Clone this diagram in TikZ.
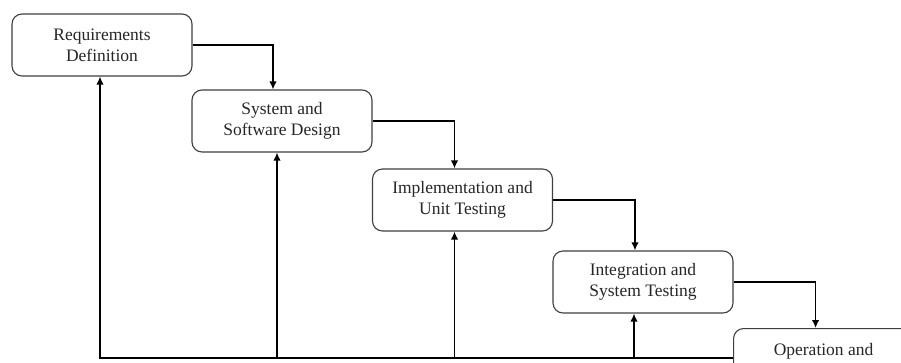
\documentclass[tikz,border=0pt]{standalone}
\usepackage{fontspec}
\setmainfont{Liberation Serif}
\usetikzlibrary{arrows.meta,calc}
\begin{document}
\begin{tikzpicture}[x=1pt,y=-1pt,
  phase/.style={draw=black!75, line width=1.1pt, rounded corners=10pt, fill=white,
    minimum width=180pt, minimum height=62pt, align=center, inner sep=0pt,
    font=\fontsize{17.5}{21}\selectfont, text=black!85},
  flow/.style={draw=black, line width=1.8pt, -{Latex[length=8pt,width=7.5pt]}}]
\useasboundingbox[fill=white] (0,0) rectangle (901,362);
\clip (0,0) rectangle (901,362);
\coordinate (base) at (0,358);
\node[phase] (req) at (102,45) {Requirements\\Definition};
\node[phase] (des) at (282,121) {System and\\Software Design};
\node[phase] (imp) at (462.5,200) {Implementation and\\Unit Testing};
\node[phase] (int) at (643,282) {Integration and\\System Testing};
\node[phase, anchor=north west] (ops) at (733,328) {Operation and\\\phantom{Maintenance}};
% forward flow
\draw[flow] (req.east) -| ([xshift=-9pt]des.north);
\draw[flow] (des.east) -| ([xshift=-8pt]imp.north);
\draw[flow] (imp.east) -| ([xshift=-8pt]int.north);
\draw[flow] (int.east) -| ([xshift=-8pt]ops.north);
% feedback
\draw[flow] (ops.west |- base) -| ([xshift=-2pt]req.south);
\draw[flow] ([xshift=-5pt]des.south |- base) -- ([xshift=-5pt]des.south);
\draw[flow] ([xshift=-8pt]imp.south |- base) -- ([xshift=-8pt]imp.south);
\draw[flow] ([xshift=-9pt]int.south |- base) -- ([xshift=-9pt]int.south);
\end{tikzpicture}
\end{document}
